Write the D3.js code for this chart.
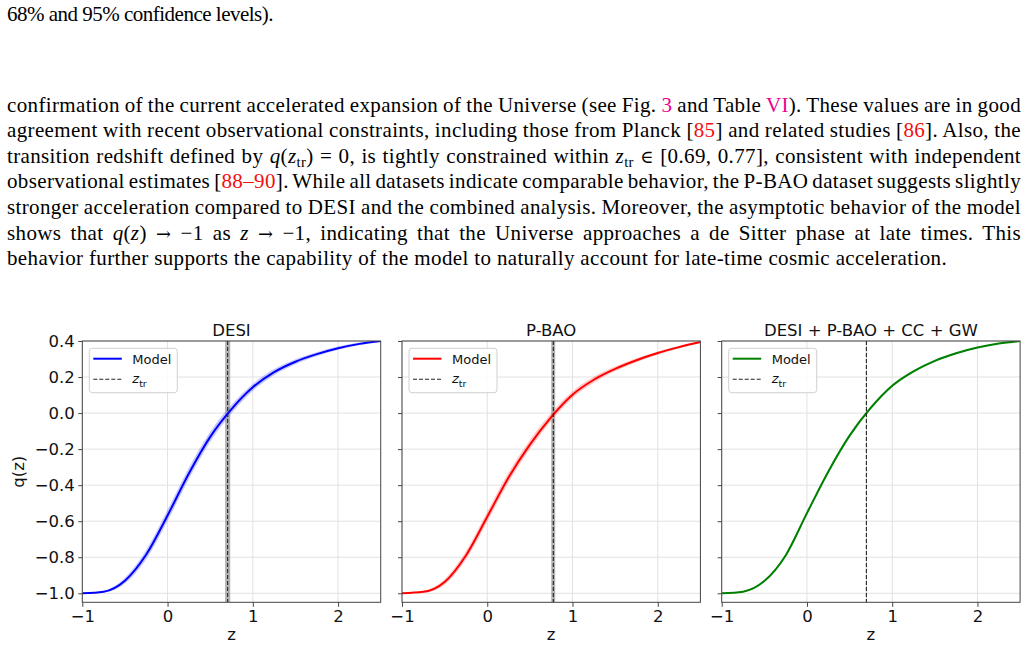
<!DOCTYPE html>
<html><head><meta charset="utf-8">
<script src="https://cdn.jsdelivr.net/npm/d3@7"></script>
<style>body{margin:0;background:#fff;} svg{display:block}</style>
</head><body>
<svg id="c" width="1027" height="647"></svg>
<script>
// ---------- DATA ----------
const zGrid = [-1, -0.75, -0.5, -0.25, 0, 0.25, 0.5, 0.75, 1.0, 1.25, 1.5, 1.75, 2.0, 2.25, 2.5];

const qDESI  = [-1.000, -0.991, -0.930, -0.785, -0.568, -0.335, -0.132, 0.022, 0.143, 0.227, 0.285, 0.327, 0.360, 0.384, 0.400];
const loDESI = [-1.000, -0.996, -0.946, -0.811, -0.599, -0.366, -0.160, -0.002, 0.123, 0.210, 0.271, 0.316, 0.351, 0.377, 0.395];
const hiDESI = [-1.000, -0.986, -0.914, -0.759, -0.537, -0.304, -0.104, 0.046, 0.163, 0.244, 0.299, 0.338, 0.369, 0.391, 0.405];

const qPBAO  = [-1.000, -0.992, -0.937, -0.790, -0.575, -0.357, -0.175, -0.022, 0.102, 0.185, 0.245, 0.293, 0.333, 0.366, 0.394];
const loPBAO = [-1.000, -0.997, -0.952, -0.814, -0.603, -0.385, -0.201, -0.044, 0.083, 0.169, 0.232, 0.282, 0.324, 0.359, 0.389];
const hiPBAO = [-1.000, -0.987, -0.922, -0.766, -0.547, -0.329, -0.149, 0.000, 0.121, 0.201, 0.258, 0.304, 0.342, 0.373, 0.399];

const qAll   = [-1.000, -0.991, -0.932, -0.790, -0.555, -0.325, -0.125, 0.030, 0.152, 0.232, 0.290, 0.332, 0.364, 0.386, 0.400];
const loAll  = [-1.000, -0.993, -0.938, -0.800, -0.567, -0.337, -0.136, 0.020, 0.144, 0.225, 0.284, 0.327, 0.360, 0.383, 0.398];
const hiAll  = [-1.000, -0.989, -0.926, -0.780, -0.543, -0.313, -0.114, 0.040, 0.160, 0.239, 0.296, 0.337, 0.368, 0.389, 0.402];

const panelTitles = ["DESI", "P-BAO", "DESI + P-BAO + CC + GW"];
const ztr   = [0.705, 0.775, 0.697];
const ztrLo = [0.675, 0.750, 0.693];
const ztrHi = [0.735, 0.797, 0.701];

const yTicks = [0.4, 0.2, 0.0, -0.2, -0.4, -0.6, -0.8, -1.0];
const xTicks = [-1, 0, 1, 2];

// ---------- TEXT ----------
const topLine = [["68% and 95% confidence levels).", "n"]];
const bodyLines = [
  [["confirmation of the current accelerated expansion of the Universe (see Fig. ", "n"], ["3", "m"], [" and Table ", "n"], ["VI", "m"], ["). These values are in good", "n"]],
  [["agreement with recent observational constraints, including those from Planck [", "n"], ["85", "r"], ["] and related studies [", "n"], ["86", "r"], ["]. Also, the", "n"]],
  [["transition redshift defined by ", "n"], ["q", "i"], ["(", "n"], ["z", "i"], ["tr", "sub"], [") = 0, is tightly constrained within ", "n"], ["z", "i"], ["tr", "sub"], [" ", "n"], ["∈", "s"], [" [0.69, 0.77], consistent with independent", "n"]],
  [["observational estimates [", "n"], ["88–90", "r"], ["]. While all datasets indicate comparable behavior, the P-BAO dataset suggests slightly", "n"]],
  [["stronger acceleration compared to DESI and the combined analysis. Moreover, the asymptotic behavior of the model", "n"]],
  [["shows that ", "n"], ["q", "i"], ["(", "n"], ["z", "i"], [") ", "n"], ["→", "s"], [" −1 as ", "n"], ["z", "i"], [" ", "n"], ["→", "s"], [" −1, indicating that the Universe approaches a de Sitter phase at late times. This", "n"]],
  [["behavior further supports the capability of the model to naturally account for late-time cosmic acceleration.", "n"]]
];

// ---------- DRAW ----------
const svg = d3.select("#c");
svg.append("rect").attr("width", 1027).attr("height", 647).attr("fill", "#fff");

const bodyFont = '"Liberation Serif", "Times New Roman", serif';
const FS = 21;

function addLine(segs, y) {
  const t = svg.append("text").attr("x", 7).attr("y", y)
    .attr("font-family", bodyFont).attr("font-size", FS).attr("fill", "#000")
    .style("white-space", "pre");
  let shifted = false;
  segs.forEach(([s, k]) => {
    const ts = t.append("tspan").text(s);
    if (shifted && k !== "sub") { ts.attr("dy", -4); shifted = false; }
    if (k === "i") ts.attr("font-style", "italic");
    if (k === "m") ts.attr("fill", "#ec008c");
    if (k === "r") ts.attr("fill", "#f01010");
    if (k === "s") ts.attr("font-family", '"DejaVu Serif", serif').attr("font-size", FS * 0.85);
    if (k === "sub") { ts.attr("font-size", FS * 0.7).attr("dy", 4); shifted = true; }
  });
  return t;
}
function charCount(segs) { return segs.reduce((a, s) => a + s[0].length, 0); }
function spaceCount(segs) { return segs.reduce((a, s) => a + (s[0].match(/ /g) || []).length, 0); }

const baseY = 111.5, lead = 25.6;
const lastIdx = bodyLines.length - 1;
const tLast = addLine(bodyLines[lastIdx], baseY + lead * lastIdx);
const wLast = tLast.node().getComputedTextLength();
const ls = (940 - wLast) / charCount(bodyLines[lastIdx]);
tLast.attr("letter-spacing", ls);

bodyLines.forEach((segs, i) => {
  if (i === lastIdx) return;
  const t = addLine(segs, baseY + lead * i).attr("letter-spacing", ls);
  const w = t.node().getComputedTextLength();
  const ws = (1014 - w) / spaceCount(segs);
  t.attr("word-spacing", ws);
});
const tTop = addLine(topLine, 21);
const wTop = tTop.node().getComputedTextLength();
tTop.attr("letter-spacing", (266 - wTop) / charCount(topLine[0] ? topLine : topLine));

// ---------- CHARTS ----------
const panelLeft = [82.3, 402.0, 721.7];
const PW = 298.4, pTop = 341, pBottom = 602.3;
const colors = ["#0000ff", "#ff0000", "#008000"];
const qs = [qDESI, qPBAO, qAll], los = [loDESI, loPBAO, loAll], his = [hiDESI, hiPBAO, hiAll];
const sans = '"DejaVu Sans", sans-serif';
const fmtY = d3.format(".1f"), fmtX = d3.format("d");

panelLeft.forEach((L, p) => {
  const x = d3.scaleLinear().domain([-1, 2.5]).range([L, L + PW]);
  const y = d3.scaleLinear().domain([-1.05, 0.4]).range([pBottom, pTop]);
  const g = svg.append("g");
  const clipId = "clip" + p;
  g.append("clipPath").attr("id", clipId).append("rect")
    .attr("x", L).attr("y", pTop).attr("width", PW).attr("height", pBottom - pTop);

  g.selectAll(".gx").data(xTicks).join("line")
    .attr("x1", d => x(d)).attr("x2", d => x(d)).attr("y1", pTop).attr("y2", pBottom)
    .attr("stroke", "#e2e2e2").attr("stroke-width", 1);
  g.selectAll(".gy").data(yTicks).join("line")
    .attr("y1", d => y(d)).attr("y2", d => y(d)).attr("x1", L).attr("x2", L + PW)
    .attr("stroke", "#e2e2e2").attr("stroke-width", 1);

  const pc = g.append("g").attr("clip-path", `url(#${clipId})`);
  const idx = d3.range(zGrid.length);
  pc.append("path").datum(idx)
    .attr("d", d3.area().x(i => x(zGrid[i])).y0(i => y(los[p][i])).y1(i => y(his[p][i])).curve(d3.curveMonotoneX))
    .attr("fill", colors[p]).attr("fill-opacity", 0.22);
  pc.append("rect").attr("x", x(ztrLo[p])).attr("width", x(ztrHi[p]) - x(ztrLo[p]))
    .attr("y", pTop).attr("height", pBottom - pTop).attr("fill", "#808080").attr("fill-opacity", 0.6);
  pc.append("path").datum(idx)
    .attr("d", d3.line().x(i => x(zGrid[i])).y(i => y(qs[p][i])).curve(d3.curveMonotoneX))
    .attr("fill", "none").attr("stroke", colors[p]).attr("stroke-width", 2);
  pc.append("line").attr("x1", x(ztr[p])).attr("x2", x(ztr[p])).attr("y1", pTop).attr("y2", pBottom)
    .attr("stroke", "#222").attr("stroke-width", 1.1).attr("stroke-dasharray", "4,2");

  const ay = g.append("g").attr("transform", `translate(${L},0)`)
    .call(d3.axisLeft(y).tickValues(yTicks).tickSize(4).tickPadding(3.5).tickFormat(p === 0 ? fmtY : () => ""));
  const ax = g.append("g").attr("transform", `translate(0,${pBottom})`)
    .call(d3.axisBottom(x).tickValues(xTicks).tickSize(4.5).tickPadding(3.5).tickFormat(fmtX));
  [ay, ax].forEach(a => {
    a.attr("font-size", 16.5).attr("font-family", sans);
    a.select(".domain").remove();
    a.selectAll(".tick line").attr("stroke", "#444");
    a.selectAll("text").style("font-size", "16.5px").style("font-family", sans).attr("fill", "#111");
  });

  g.append("rect").attr("x", L).attr("y", pTop).attr("width", PW).attr("height", pBottom - pTop)
    .attr("fill", "none").attr("stroke", "#444").attr("stroke-width", 1);

  g.append("text").attr("x", L + PW / 2).attr("y", 336).attr("text-anchor", "middle")
    .attr("font-family", sans).attr("font-size", 16.5).attr("fill", "#111").text(panelTitles[p]);
  g.append("text").attr("x", L + PW / 2).attr("y", 640).attr("text-anchor", "middle")
    .attr("font-family", sans).attr("font-size", 16.5).attr("fill", "#111").text("z");

  const lg = g.append("g");
  lg.append("rect").attr("x", L + 7).attr("y", 348.3).attr("width", 88).attr("height", 44.4)
    .attr("rx", 3).attr("fill", "#fff").attr("fill-opacity", 0.85).attr("stroke", "#d0d0d0");
  lg.append("line").attr("x1", L + 11).attr("x2", L + 39.5).attr("y1", 358.7).attr("y2", 358.7)
    .attr("stroke", colors[p]).attr("stroke-width", 2);
  lg.append("text").attr("x", L + 50).attr("y", 363.8).attr("font-family", sans).attr("font-size", 13)
    .attr("fill", "#111").text("Model");
  lg.append("line").attr("x1", L + 11).attr("x2", L + 39.5).attr("y1", 379.3).attr("y2", 379.3)
    .attr("stroke", "#222").attr("stroke-width", 1.1).attr("stroke-dasharray", "4,2");
  const zt = lg.append("text").attr("x", L + 50).attr("y", 383.3).attr("font-family", sans)
    .attr("font-size", 13).attr("fill", "#111");
  zt.append("tspan").attr("font-style", "italic").text("z");
  zt.append("tspan").attr("font-size", 9.5).attr("dy", 3.4).text("tr");
});

svg.append("text").attr("transform", "translate(24,471.7) rotate(-90)").attr("text-anchor", "middle")
  .attr("font-family", sans).attr("font-size", 16.5).attr("fill", "#111").text("q(z)");
</script>
</body></html>
